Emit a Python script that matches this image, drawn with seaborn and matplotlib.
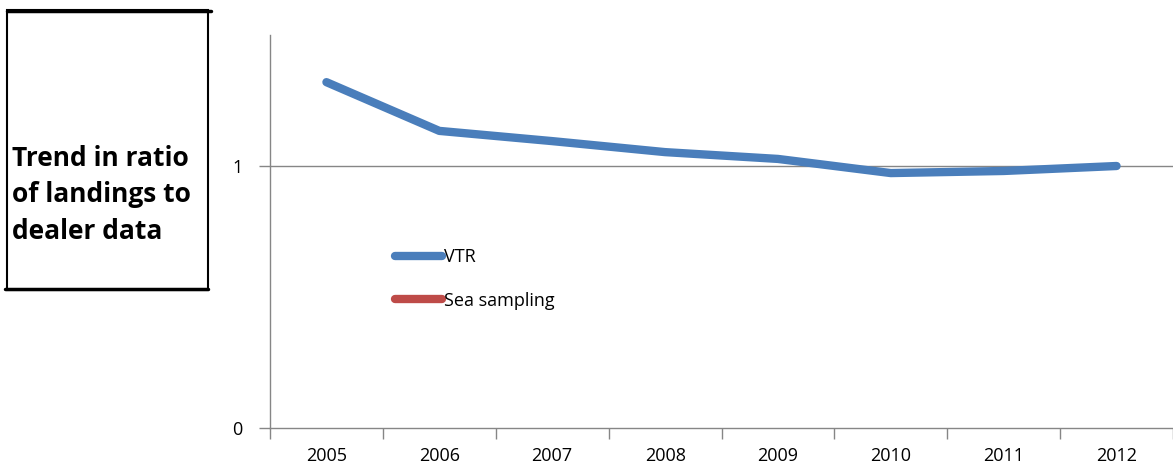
import matplotlib
matplotlib.use("Agg")
import matplotlib.pyplot as plt
from matplotlib.lines import Line2D
from matplotlib.patches import Rectangle
import seaborn as sns
import pandas as pd

# --- data ---
years = ["2005", "2006", "2007", "2008", "2009", "2010", "2011", "2012"]
vtr = [1.32, 1.134, 1.095, 1.053, 1.027, 0.973, 0.981, 1.0]
sea_sampling = []  # shown in legend only
series_names = ["VTR", "Sea sampling"]
series_colors = ["#4A7EBB", "#BE4B48"]
title_lines = "Trend in ratio\nof landings to\ndealer data"

sns.set_style("white")
plt.rcParams["font.family"] = ["Open Sans", "DejaVu Sans"]
plt.rcParams["text.color"] = "black"
plt.rcParams["xtick.color"] = "black"
plt.rcParams["ytick.color"] = "black"

W, H = 1173, 468
fig = plt.figure(figsize=(W / 100, H / 100), dpi=100)
ax = fig.add_axes([270 / W, 40 / H, (W - 270) / W, 393 / H])

df = pd.DataFrame({"year": years, "ratio": vtr})
sns.lineplot(data=df, x="year", y="ratio", ax=ax, color=series_colors[0],
             linewidth=6, solid_capstyle="round", solid_joinstyle="round",
             zorder=3)

ax.set_xlim(-0.5, 7.5 - 9 / 114)
ax.set_ylim(0, 1.5)
ax.set_yticks([0, 1])
ax.set_xticks(range(len(years)))
ax.set_xticklabels(years)
ax.set_xticks([i - 0.5 for i in range(len(years) + 1)], minor=True)
ax.tick_params(axis="x", which="major", bottom=True, length=0, pad=14,
               labelsize=13, labelcolor="black")
ax.tick_params(axis="x", which="minor", bottom=True, length=8, width=1,
               color="#868686", direction="out")
ax.tick_params(axis="y", left=True, length=8, width=1, color="#868686",
               direction="out", pad=12, labelsize=13, labelcolor="black")
ax.axhline(1, color="#868686", linewidth=1, zorder=1)
ax.set_xlabel("")
ax.set_ylabel("")
for side in ["top", "right"]:
    ax.spines[side].set_visible(False)
for side in ["left", "bottom"]:
    ax.spines[side].set_color("#868686")
    ax.spines[side].set_linewidth(1)

handles = [Line2D([], [], color=c, linewidth=6, solid_capstyle="round")
           for c in series_colors]
leg = ax.legend(handles, series_names, loc="upper left",
                bbox_to_anchor=((388 - 270) / (W - 270), (428 - 241) / 393),
                frameon=False, fontsize=13, handlelength=2.6,
                handletextpad=0.1, labelspacing=1.4, borderaxespad=0)
for t in leg.get_texts():
    t.set_color("black")

# title box on the left
fig.patches.append(Rectangle((7 / W, (H - 290) / H), 201 / W, 280 / H,
                             transform=fig.transFigure, fill=False,
                             edgecolor="black", linewidth=1.5))
fig.add_artist(Line2D([7 / W, 211 / W], [(H - 11) / H, (H - 11) / H],
                      transform=fig.transFigure, color="black", linewidth=2.5))
fig.add_artist(Line2D([5 / W, 208 / W], [(H - 289) / H, (H - 289) / H],
                      transform=fig.transFigure, color="black", linewidth=2.5))
fig.text(12 / W, (H - 195) / H, title_lines, ha="left", va="center",
         fontsize=19, fontweight="bold", linespacing=1.45, color="black",
         family=["Open Sans", "DejaVu Sans"])

fig.savefig("out.png", dpi=100)
